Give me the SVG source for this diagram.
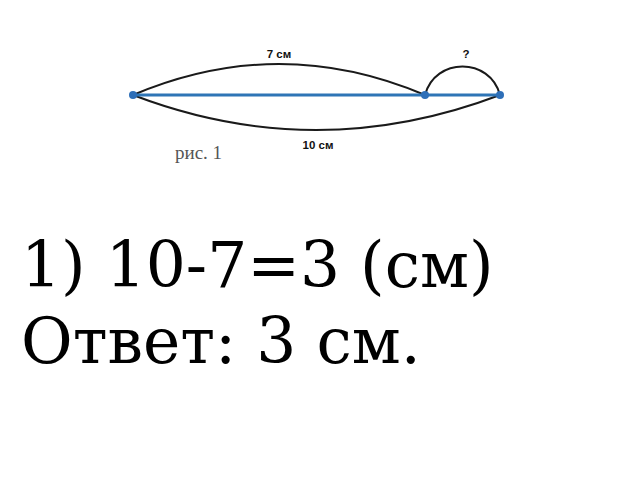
<svg xmlns="http://www.w3.org/2000/svg" width="640" height="480" viewBox="0 0 640 480">
<style>
.arc{fill:none;stroke:#1a1a1a;stroke-width:2}
.seg{stroke:#2e75b6;stroke-width:3}
.dot{fill:#2e6fb8}
.lbl{font-family:"Liberation Sans",Arial,sans-serif;font-weight:bold;font-size:11.5px;fill:#111;text-anchor:middle}
.cap{font-family:"Liberation Serif","Times New Roman",serif;font-size:19px;fill:#555}
.big{font-family:"DejaVu Serif",serif;font-size:63px;fill:#000}
</style>
<rect width="640" height="480" fill="#fff"/>
<g id="connectors">
<path class="arc" d="M133,95 Q279,33 425,95"/>
<path class="arc" d="M133,95 Q316,165 500,95"/>
<path class="arc" d="M425,95 C435,57 490,57 500,95"/>
<line class="seg" x1="133" y1="95" x2="500" y2="95"/>
</g>
<g id="pointA"><circle class="dot" cx="133" cy="95" r="4"/></g>
<g id="pointB"><circle class="dot" cx="425" cy="95" r="4"/></g>
<g id="pointC"><circle class="dot" cx="500" cy="95" r="4"/></g>
<g id="labels">
<text class="lbl" x="279" y="58">7 см</text>
<text class="lbl" x="466" y="58">?</text>
<text class="lbl" x="318" y="149">10 см</text>
<text class="cap" x="175" y="159">рис. 1</text>
</g>
<g id="solution">
<text class="big" x="21" y="287">1) 10-7=3 (см)</text>
<text class="big" x="21" y="363">Ответ: 3 см.</text>
</g>
</svg>
